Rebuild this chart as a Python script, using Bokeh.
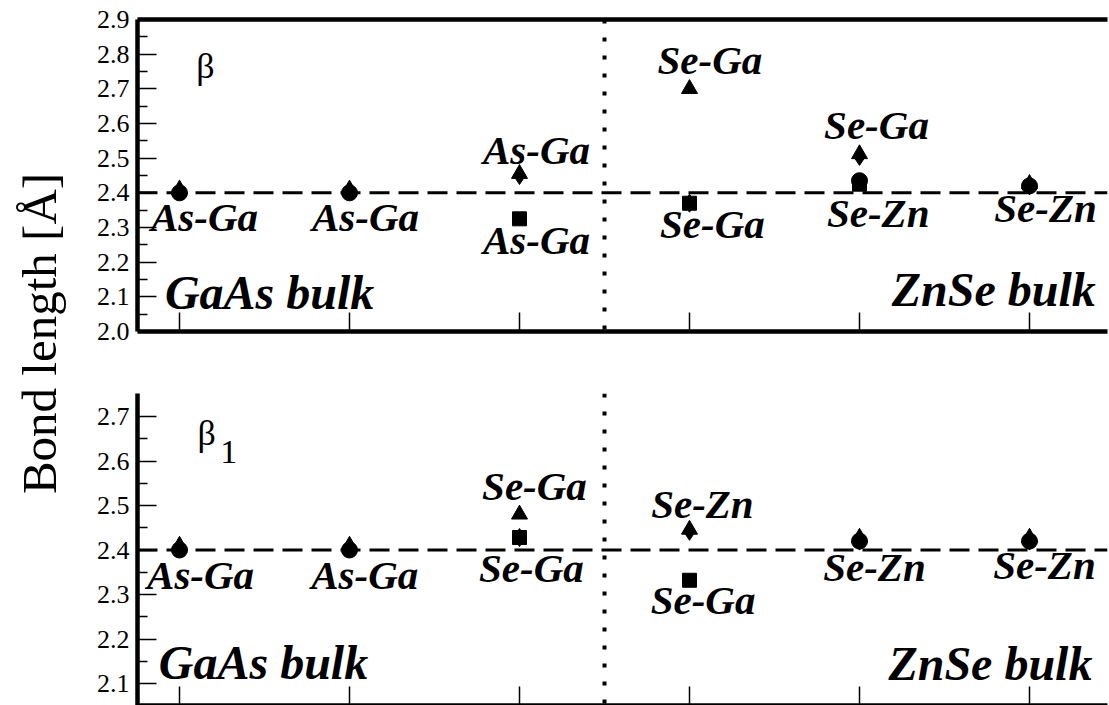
import math
import numpy as np
from bokeh.plotting import figure
from bokeh.layouts import row, column
from bokeh.models import Range1d, FixedTicker, LinearAxis, Span, Label, NumeralTickFormatter
from bokeh.core.properties import value
from bokeh.embed import file_html
from bokeh.resources import INLINE

nan = float("nan")

# ---------------- data ----------------
categories = [1, 2, 3, 4, 5, 6]
ref_bond = 2.40          # bulk bond length (dashed line)
interface_x = 3.5        # GaAs / ZnSe interface (dotted line)

# panel beta
beta_circle   = [2.400, 2.400, nan,   nan,   2.435, 2.420]
beta_square   = [nan,   nan,   2.325, 2.370, 2.425, nan]
beta_triangle = [2.410, 2.410, 2.455, 2.700, 2.512, 2.426]
beta_diamond  = [2.405, 2.405, 2.450, 2.370, 2.505, 2.420]

beta_label_x = [1.147, 2.094, 3.10, 3.10, 4.12, 4.135, 5.10, 5.11, 6.094]
beta_label_y = [2.330, 2.330, 2.524, 2.264, 2.783, 2.310, 2.596, 2.342, 2.356]
beta_label_text = ["As-Ga", "As-Ga", "As-Ga", "As-Ga", "Se-Ga", "Se-Ga", "Se-Ga", "Se-Zn", "Se-Zn"]

# panel beta_1
beta1_circle   = [2.400, 2.400, nan,   nan,   2.420, 2.420]
beta1_square   = [nan,   nan,   2.428, 2.332, nan,   nan]
beta1_triangle = [2.410, 2.410, 2.480, 2.446, 2.428, 2.428]
beta1_diamond  = [2.405, 2.405, 2.428, 2.442, 2.420, 2.420]

beta1_label_x = [1.124, 2.09, 3.088, 3.07, 4.076, 4.08, 5.088, 6.088]
beta1_label_y = [2.344, 2.344, 2.544, 2.360, 2.503, 2.288, 2.362, 2.366]
beta1_label_text = ["As-Ga", "As-Ga", "Se-Ga", "Se-Ga", "Se-Zn", "Se-Ga", "Se-Zn", "Se-Zn"]

bulk_text = ["GaAs bulk", "ZnSe bulk"]
beta_bulk_x = [1.53, 5.79]
beta_bulk_y = [2.1125, 2.121]
beta1_bulk_x = [1.494, 5.77]
beta1_bulk_y = [2.147, 2.145]

beta_ticks = [2.0, 2.1, 2.2, 2.3, 2.4, 2.5, 2.6, 2.7, 2.8, 2.9]
beta_minor = [2.05, 2.15, 2.25, 2.35, 2.45, 2.55, 2.65, 2.75, 2.85]
beta1_ticks = [2.1, 2.2, 2.3, 2.4, 2.5, 2.6, 2.7]
beta1_minor = [2.15, 2.25, 2.35, 2.45, 2.55, 2.65]

y_label = "Bond length [Å]"

# ---------------- layout ----------------
SERIF = "Liberation Serif"
LABEL_W = 77
MAIN_W = 1032
TOP_H = 361
BOT_H = 344
PX_PER_X = 170.0
X0 = 1 - 42 / PX_PER_X
X1 = X0 + (MAIN_W - 60 - 2) / PX_PER_X


def style_panel(p, ticks, minor):
    p.outline_line_color = None
    p.grid.visible = False
    p.background_fill_color = "white"
    p.border_fill_color = "white"
    ya = p.yaxis[0]
    ya.ticker = FixedTicker(ticks=ticks, minor_ticks=minor)
    ya.formatter = NumeralTickFormatter(format="0.0")
    ya.axis_line_width = 4.5
    ya.axis_line_color = "black"
    ya.major_tick_in = 19
    ya.major_tick_out = 0
    ya.minor_tick_in = 10
    ya.minor_tick_out = 0
    ya.major_tick_line_width = 1.5
    ya.minor_tick_line_width = 1.5
    ya.major_tick_line_color = "black"
    ya.minor_tick_line_color = "black"
    ya.major_label_text_font = SERIF
    ya.major_label_text_font_size = "26px"
    ya.major_label_text_color = "black"
    ya.major_label_standoff = 8
    xa = p.xaxis[0]
    xa.ticker = FixedTicker(ticks=categories, minor_ticks=[])
    xa.major_label_overrides = {c: "" for c in categories}
    xa.major_label_text_font_size = "1px"
    xa.major_label_standoff = 0
    xa.major_tick_in = 19
    xa.major_tick_out = 0
    xa.major_tick_line_width = 1.5
    xa.major_tick_line_color = "black"
    xa.axis_line_width = 4.5
    xa.axis_line_color = "black"
    top_ax = LinearAxis(ticker=FixedTicker(ticks=[], minor_ticks=[]),
                        major_label_text_font_size="1px", major_label_standoff=0,
                        major_tick_in=0, major_tick_out=0, minor_tick_in=0, minor_tick_out=0,
                        axis_line_width=4.5, axis_line_color="black")
    p.add_layout(top_ax, "above")
    p.add_layout(Span(location=ref_bond, dimension="width", line_dash="20 9",
                      line_width=3, line_color="black"))
    p.add_layout(Span(location=interface_x, dimension="height", line_dash="4 14",
                      line_width=4, line_color="black"))


def add_points(p, circ, sq, tri, dia):
    x = np.array(categories, dtype=float)
    p.scatter(x, np.array(dia, dtype=float), marker="diamond", size=18, color="black")
    p.scatter(x, np.array(circ, dtype=float), marker="circle", size=16, color="black")
    p.scatter(x, np.array(sq, dtype=float), marker="square", size=14, color="black")
    p.scatter(x, np.array(tri, dtype=float), marker="triangle", size=16, color="black")


def add_labels(p, lx, ly, lt, bx, by):
    p.text(x=lx, y=ly, text=lt, text_font=value(SERIF), text_font_style="bold italic",
           text_font_size="41px", text_align="center", text_baseline="middle",
           text_color="black")
    p.text(x=bx, y=by, text=bulk_text, text_font=value(SERIF), text_font_style="bold italic",
           text_font_size="48px", text_align="center", text_baseline="middle",
           text_color="black")


# top panel (beta)
p1 = figure(width=MAIN_W, height=TOP_H, x_range=Range1d(X0, X1), y_range=Range1d(2.0, 2.9),
            output_backend="svg", toolbar_location=None,
            min_border_left=60, min_border_right=2, min_border_top=19, min_border_bottom=30)
style_panel(p1, beta_ticks, beta_minor)
add_points(p1, beta_circle, beta_square, beta_triangle, beta_diamond)
add_labels(p1, beta_label_x, beta_label_y, beta_label_text, beta_bulk_x, beta_bulk_y)
p1.add_layout(Label(x=1.153, y=2.766, text="β", text_font=SERIF, text_font_size="36px",
                    text_align="center", text_baseline="middle", text_color="black"))

# bottom panel (beta_1)
b_top = 2.7 + 23 / 445.0
b_bot = b_top - (BOT_H - 32) / 445.0
p2 = figure(width=MAIN_W, height=BOT_H, x_range=Range1d(X0, X1), y_range=Range1d(b_bot, b_top),
            output_backend="svg", toolbar_location=None,
            min_border_left=60, min_border_right=2, min_border_top=32, min_border_bottom=0)
style_panel(p2, beta1_ticks, beta1_minor)
p2.xaxis[0].axis_line_color = None
add_points(p2, beta1_circle, beta1_square, beta1_triangle, beta1_diamond)
add_labels(p2, beta1_label_x, beta1_label_y, beta1_label_text, beta1_bulk_x, beta1_bulk_y)
p2.add_layout(Label(x=1.16, y=2.663, text="β", text_font=SERIF, text_font_size="36px",
                    text_align="center", text_baseline="middle", text_color="black"))
p2.add_layout(Label(x=1.29, y=2.620, text="1", text_font=SERIF, text_font_size="34px",
                    text_align="center", text_baseline="middle", text_color="black"))

# y-axis title column
H = TOP_H + BOT_H
pl = figure(width=LABEL_W, height=H, x_range=Range1d(0, LABEL_W), y_range=Range1d(0, H),
            output_backend="svg", toolbar_location=None, x_axis_location=None,
            y_axis_location=None, min_border=0)
pl.outline_line_color = None
pl.grid.visible = False
pl.add_layout(Label(x=39, y=H - 333, text=y_label, angle=math.pi / 2, text_font=SERIF,
                    text_font_size="49px", text_align="center", text_baseline="middle",
                    text_color="black"))

layout = row(pl, column(p1, p2))
open("out.html", "w").write(file_html(layout, INLINE))
